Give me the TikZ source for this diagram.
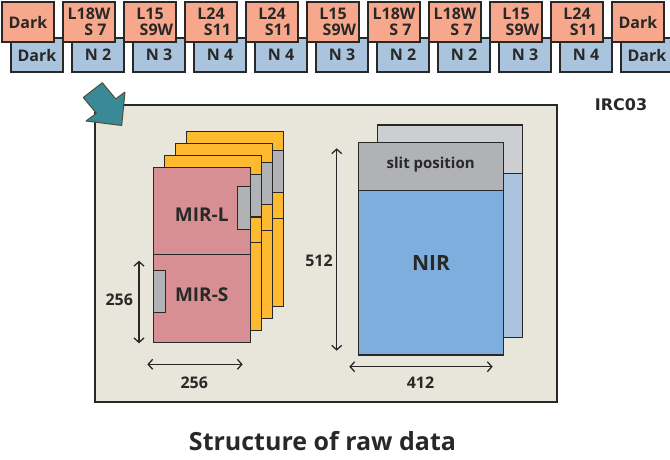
\documentclass[tikz,border=0pt]{standalone}
\usepackage{fontspec}
\setmainfont{Open Sans}
\newfontfamily\labelfont{DejaVu Sans}
\usepackage{tikz}
\usetikzlibrary{arrows.meta}

\definecolor{salmon}{RGB}{247,168,140}
\definecolor{skyblue}{RGB}{170,196,222}
\definecolor{panelbg}{RGB}{232,230,218}
\definecolor{mirpink}{RGB}{215,143,147}
\definecolor{mirgold}{RGB}{253,186,48}
\definecolor{slitgray}{RGB}{177,178,182}
\definecolor{slitlight}{RGB}{205,206,210}
\definecolor{nirblue}{RGB}{126,174,221}
\definecolor{nirback}{RGB}{170,196,222}
\definecolor{arrowteal}{RGB}{58,137,153}
\definecolor{arrowedge}{RGB}{80,80,50}
\definecolor{edge}{RGB}{40,40,38}

\tikzset{
  band/.style={draw=edge,line width=1.2pt,minimum width=52pt,inner sep=0pt,
    align=center,text=edge,font=\bfseries\fontsize{16}{16.5}\selectfont},
  lband/.style={band,fill=salmon,minimum height=40pt},
  nband/.style={band,fill=skyblue,minimum height=34pt},
  plate/.style={draw=edge,line width=1.2pt},
  dim/.style={line width=1.3pt,draw=edge,
    {Straight Barb[length=4.5pt,width=10pt]}-{Straight Barb[length=4.5pt,width=10pt]}},
  dimlabel/.style={font=\bfseries\fontsize{16}{18}\selectfont,text=edge},
  bigtext/.style={font=\bfseries\fontsize{19}{22}\selectfont,text=edge}
}

\begin{document}
\begin{tikzpicture}[x=1pt,y=-1pt]
    \useasboundingbox (0,0) rectangle (670,459);

    % filter sequence (NIR row under, MIR row on top)
    \foreach \lab [count=\i] in {Dark,N 2,N 3,N 4,N 4,N 3,N 2,N 2,N 3,N 4,Dark}
        \node[nband] (n\i) at ({37+61*(\i-1)},55) {\lab};
    \foreach \lab [count=\i] in {Dark,{L18W\\\hspace*{.8em}S 7},{L15\\\hspace*{.8em}S9W},
        {L24\\\hspace*{.8em}S11},{L24\\\hspace*{.8em}S11},{L15\\\hspace*{.8em}S9W},
        {L18W\\\hspace*{.8em}S 7},{L18W\\\hspace*{.8em}S 7},{L15\\\hspace*{.8em}S9W},
        {L24\\\hspace*{.8em}S11},Dark}
        \node[lband] (l\i) at ({28+61*(\i-1)},22) {\lab};

    \node[font=\labelfont\bfseries\fontsize{16}{18}\selectfont,text=edge] (irc) at (621,105) {IRC03};

    % panel
    \draw[plate,fill=panelbg] (95,105) rectangle (557,402);
    \draw[fill=arrowteal,draw=arrowedge,line width=1pt,line join=round]
        (121.7,125.5) -- (125,92) -- (115.7,98.9) -- (102.3,82.7) -- (83.3,97.5)
        -- (96.4,113.3) -- (86,121) -- cycle;

    % MIR frames, back to front
    \foreach \k in {3,2,1,0} {
        \ifnum\k=0 \def\fillc{mirpink}\else \def\fillc{mirgold}\fi
        \begin{scope}[shift={({153.3+11*\k},{167.7-12.2*\k})}]
            \draw[plate,fill=\fillc] (0,0) rectangle (97,175);
            \draw[plate] (0,87) -- (97,87);
            \draw[plate,fill=slitgray] (84.5,19) rectangle (97,61.5);
            \draw[plate,fill=slitgray] (0,102.5) rectangle (12.5,144.5);
        \end{scope}
    }
    \node[bigtext] (mirl) at (201.7,214.3) {MIR-L};
    \node[bigtext] (mirs) at (201.7,295) {MIR-S};

    % NIR frames
    \draw[plate,fill=nirback] (377.7,125) rectangle (522.7,337.3);
    \draw[plate,fill=slitlight] (377.7,125) rectangle (522.7,173.3);
    \draw[plate,fill=nirblue] (358.3,142.7) rectangle (503.3,355);
    \draw[plate,fill=slitgray] (358.3,142.7) rectangle (503.3,190.7);
    \node[font=\bfseries\fontsize{15}{17}\selectfont,text=edge] (slit) at (430.7,164.3) {slit position};
    \node[font=\bfseries\fontsize{21}{24}\selectfont,text=edge] (nir) at (431,263.3) {NIR};

    % sizes
    \coordinate (mirv1) at (139,260.7);
    \coordinate (mirv2) at (139,343.3);
    \coordinate (mirh1) at (147.3,364.3);
    \coordinate (mirh2) at (242.7,364.3);
    \coordinate (nirv1) at (336.7,148.3);
    \coordinate (nirv2) at (336.7,350.7);
    \coordinate (nirh1) at (349.3,366.7);
    \coordinate (nirh2) at (492.7,366.7);
    \draw[dim] (mirv1) -- (mirv2);
    \draw[dim] (mirh1) -- (mirh2);
    \draw[dim] (nirv1) -- (nirv2);
    \draw[dim] (nirh1) -- (nirh2);
    \node[dimlabel] (mirvlab) at (119.3,299.3) {256};
    \node[dimlabel] (mirhlab) at (194.3,382.7) {256};
    \node[dimlabel] (nirvlab) at (319,260.7) {512};
    \node[dimlabel] (nirhlab) at (420.5,382.7) {412};

    \node[font=\bfseries\fontsize{25}{28}\selectfont,text=edge] (title) at (322.5,440.8) {Structure of raw data};
\end{tikzpicture}
\end{document}
